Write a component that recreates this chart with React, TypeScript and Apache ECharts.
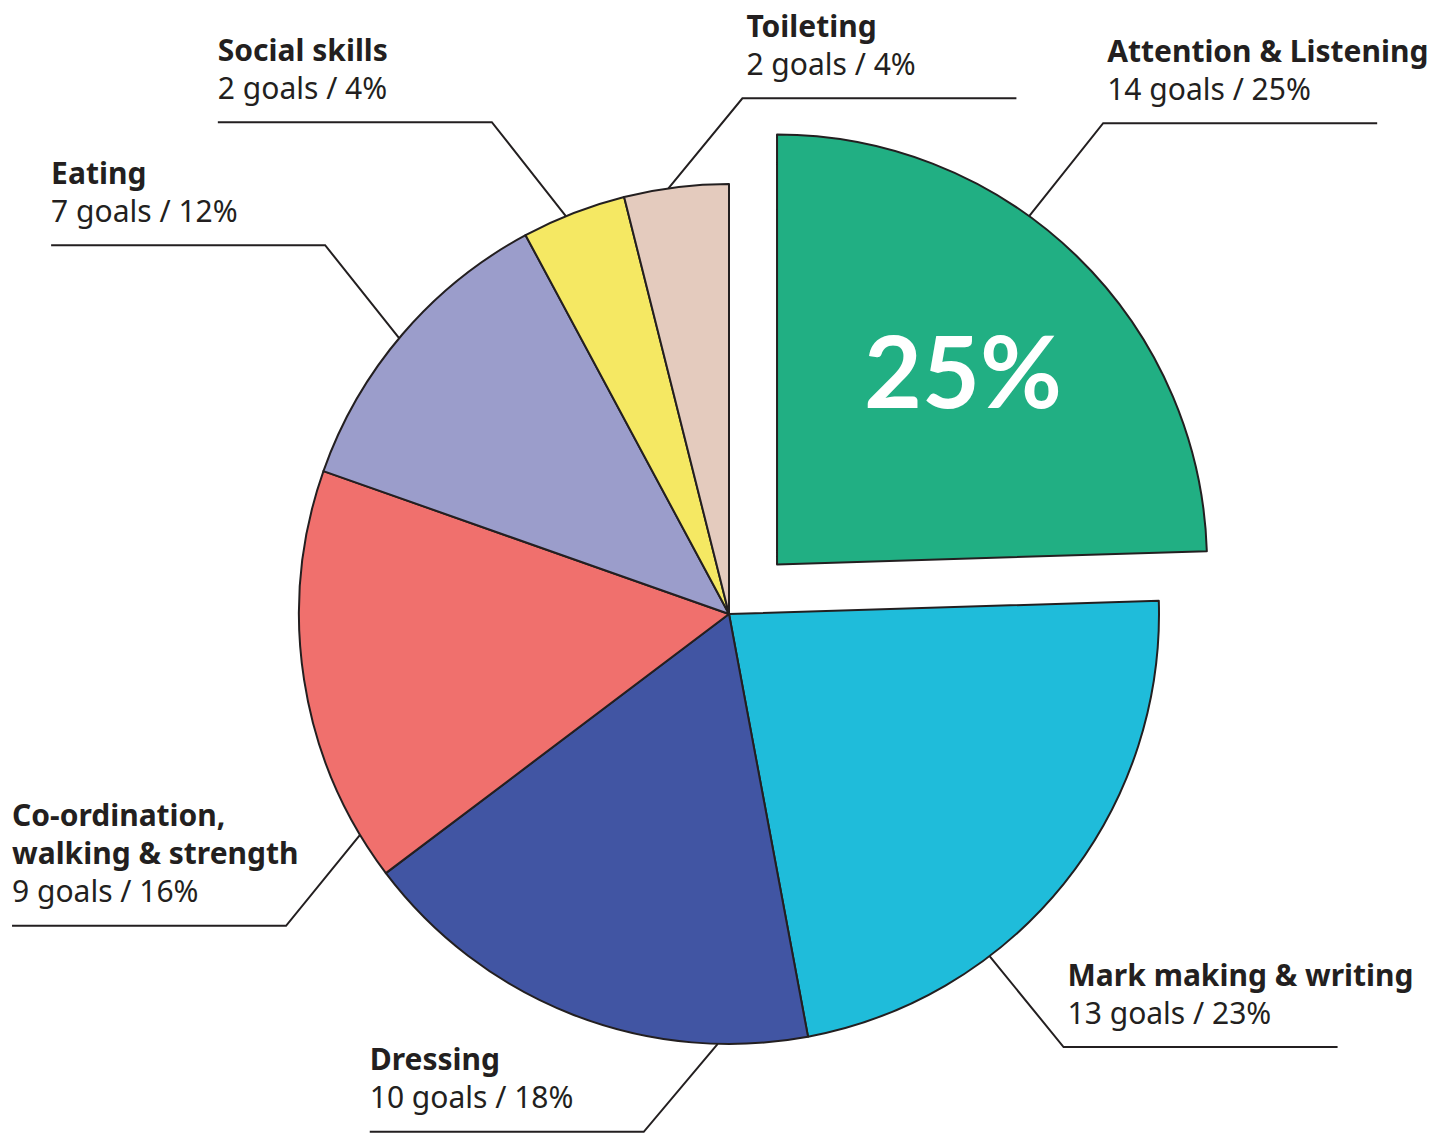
import React, { useEffect, useRef } from "react";
import * as echarts from "echarts";

const categories = [
  "Attention & Listening",
  "Mark making & writing",
  "Dressing",
  "Co-ordination,\nwalking & strength",
  "Eating",
  "Social skills",
  "Toileting",
];
const goals = [14, 13, 10, 9, 7, 2, 2];
const percents = [25, 23, 18, 16, 12, 4, 4];
const colors = ["#21AF83", "#1FBCDA", "#4155A3", "#F0706D", "#9B9DCB", "#F5E863", "#E4CBBE"];

// layout: angle (deg, clockwise from top) where each leader line leaves the pie, its direction and rise
const leaderAngles = [35.9, 142.7, 181.5, 239.1, 309.9, 337.7, 351.9];
const leaderDirX = [1, 1, -1, -1, -1, -1, 1];
const leaderDirY = [-1, 1, 1, 1, -1, -1, -1];
const leaderRise = [93, 91, 88, 91, 93, 94, 90];

const W = 1449;
const H = 1135;
const CX = 729;
const CY = 614;
const R = 430;
const OFFSET = 69;
const DIAG_X = 74;
const HLEN = 274;
const INK = "#231F20";
const FONT = "'Noto Sans', Lato, sans-serif";
const EXPLODED = 0;

const total = percents.reduce((a, b) => a + b, 0);

function midAngle(i: number) {
  let start = 0;
  for (let k = 0; k < i; k++) start += (percents[k] / total) * 360;
  return start + ((percents[i] / total) * 360) / 2;
}
function sliceOffset(i: number) {
  if (i !== EXPLODED) return [0, 0];
  const rad = (midAngle(i) * Math.PI) / 180;
  return [OFFSET * Math.sin(rad), -OFFSET * Math.cos(rad)];
}

export default function App() {
  const ref = useRef<HTMLDivElement>(null);
  useEffect(() => {
    document.body.style.margin = "0";
    if (!ref.current) return;
    const chart = echarts.init(ref.current, undefined, { renderer: "svg" });

    const rad0 = (midAngle(EXPLODED) * Math.PI) / 180;
    const off0 = sliceOffset(EXPLODED);
    const bigX = CX + off0[0] + 267 * Math.sin(rad0);
    const bigY = CY + off0[1] - 267 * Math.cos(rad0) - 4;

    const baseSeries = {
      type: "pie",
      radius: R,
      startAngle: 90,
      clockwise: true,
      avoidLabelOverlap: false,
      silent: true,
      emphasis: { disabled: true },
    };

    chart.setOption({
      animation: false,
      backgroundColor: "#ffffff",
      series: [
        {
          ...baseSeries,
          center: [CX, CY],
          data: categories.map((name, i) => ({
            name,
            value: percents[i],
            itemStyle:
              i === EXPLODED
                ? { color: "rgba(0,0,0,0)", borderWidth: 0 }
                : { color: colors[i], borderColor: INK, borderWidth: 2 },
          })),
          label: {
            show: true,
            position: "outside",
            formatter: (p: any) => {
              const i = p.dataIndex;
              const lines = String(p.name)
                .split("\n")
                .map((l) => `{b|${l}}`)
                .join("\n");
              return `${lines}\n{v|${goals[i]} goals / ${percents[i]}%}`;
            },
            rich: {
              b: { fontFamily: FONT, fontWeight: "bold", fontSize: 30, lineHeight: 38, color: INK },
              v: { fontFamily: FONT, fontWeight: "normal", fontSize: 30, lineHeight: 38, color: INK },
            },
          },
          labelLine: {
            show: true,
            smooth: false,
            lineStyle: { color: INK, width: 2 },
          },
          labelLayout: (params: any) => {
            const i = params.dataIndex;
            const off = sliceOffset(i);
            const a = (leaderAngles[i] * Math.PI) / 180;
            const p0 = [CX + off[0] + R * Math.sin(a), CY + off[1] - R * Math.cos(a)];
            const p1 = [p0[0] + leaderDirX[i] * DIAG_X, p0[1] + leaderDirY[i] * leaderRise[i]];
            const p2 = [p1[0] + leaderDirX[i] * HLEN, p1[1]];
            const x = leaderDirX[i] > 0 ? p1[0] + 4 : p2[0];
            return {
              x,
              y: p1[1] - 16,
              align: "left",
              verticalAlign: "bottom",
              labelLinePoints: [p0, p1, p2],
            };
          },
        },
        {
          ...baseSeries,
          center: [CX + off0[0], CY + off0[1]],
          label: { show: false },
          labelLine: { show: false },
          data: categories.map((name, i) => ({
            name,
            value: percents[i],
            itemStyle:
              i === EXPLODED
                ? { color: colors[i], borderColor: INK, borderWidth: 2 }
                : { color: "rgba(0,0,0,0)", borderWidth: 0 },
          })),
        },
      ],
      graphic: [
        {
          type: "text",
          x: bigX,
          y: bigY,
          style: {
            text: `${percents[EXPLODED]}%`,
            fill: "#ffffff",
            fontFamily: "Lato, sans-serif",
            fontWeight: "bold",
            fontSize: 100,
            align: "center",
            verticalAlign: "middle",
          },
          z: 100,
        },
      ],
    });
    return () => chart.dispose();
  }, []);
  return <div ref={ref} style={{ width: W, height: H }} />;
}
